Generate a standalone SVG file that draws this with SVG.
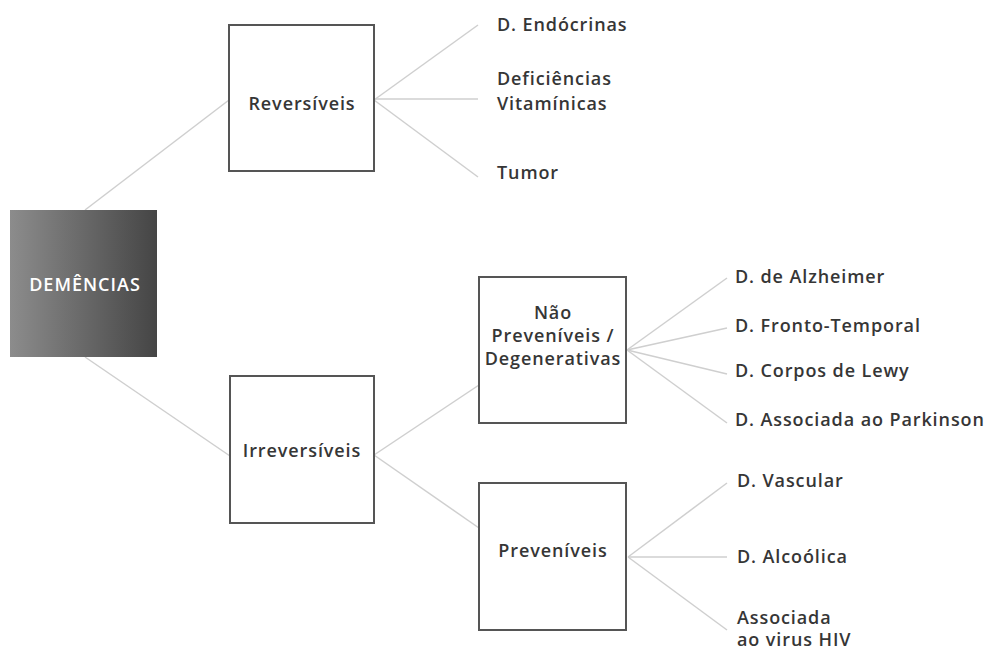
<svg xmlns="http://www.w3.org/2000/svg" width="990" height="650" viewBox="0 0 990 650">
<style>
.box{fill:#fff;stroke:#555;stroke-width:2}
.lbl{font-family:"Open Sans","Noto Sans","Liberation Sans",sans-serif;font-weight:600;font-size:18px;letter-spacing:0.9px;fill:#363636}
.c{text-anchor:middle}
.conn line{stroke:#cfcfcf;stroke-width:1.5}
</style>
<defs>
<linearGradient id="g" x1="0" y1="0" x2="1" y2="0">
<stop offset="0" stop-color="#8c8c8c"/>
<stop offset="1" stop-color="#454545"/>
</linearGradient>
</defs>
<rect width="990" height="650" fill="#fff"/>
<g id="connectors" class="conn">
<line x1="85" y1="210" x2="229" y2="100"/>
<line x1="85" y1="357" x2="230" y2="456"/>
<line x1="374" y1="100" x2="478" y2="25"/>
<line x1="374" y1="99" x2="478" y2="99"/>
<line x1="374" y1="100" x2="478" y2="177"/>
<line x1="374" y1="455" x2="479" y2="385"/>
<line x1="374" y1="455" x2="479" y2="528"/>
<line x1="627" y1="350" x2="727" y2="278"/>
<line x1="627" y1="350" x2="727" y2="328"/>
<line x1="627" y1="350" x2="727" y2="374"/>
<line x1="627" y1="350" x2="727" y2="423"/>
<line x1="628" y1="557" x2="727" y2="483"/>
<line x1="628" y1="557" x2="727" y2="557"/>
<line x1="628" y1="557" x2="727" y2="630"/>
</g>
<g id="dementias">
<rect x="10" y="210" width="147" height="147" fill="url(#g)"/>
<text class="lbl c" x="85" y="291" style="fill:#fff;letter-spacing:1px">DEMÊNCIAS</text>
</g>
<g id="reversiveis">
<rect class="box" x="229" y="25" width="145" height="146"/>
<text class="lbl c" x="302" y="110">Reversíveis</text>
</g>
<g id="irreversiveis">
<rect class="box" x="230" y="376" width="144" height="147"/>
<text class="lbl c" x="302" y="457">Irreversíveis</text>
</g>
<g id="nao-preveniveis">
<rect class="box" x="479" y="277" width="147" height="146"/>
<text class="lbl c" x="553" y="319">Não</text>
<text class="lbl c" x="553" y="342">Preveníveis /</text>
<text class="lbl c" x="553" y="365">Degenerativas</text>
</g>
<g id="preveniveis">
<rect class="box" x="479" y="483" width="147" height="147"/>
<text class="lbl c" x="553" y="557">Preveníveis</text>
</g>
<g id="endocrinas"><text class="lbl" x="497" y="31">D. Endócrinas</text></g>
<g id="vitaminicas"><text class="lbl" x="497" y="85">Deficiências</text><text class="lbl" x="497" y="110">Vitamínicas</text></g>
<g id="tumor"><text class="lbl" x="497" y="179">Tumor</text></g>
<g id="alzheimer"><text class="lbl" x="735" y="283">D. de Alzheimer</text></g>
<g id="fronto"><text class="lbl" x="735" y="332">D. Fronto-Temporal</text></g>
<g id="lewy"><text class="lbl" x="735" y="377">D. Corpos de Lewy</text></g>
<g id="parkinson"><text class="lbl" x="735" y="426">D. Associada ao Parkinson</text></g>
<g id="vascular"><text class="lbl" x="737" y="487">D. Vascular</text></g>
<g id="alcoolica"><text class="lbl" x="737" y="563">D. Alcoólica</text></g>
<g id="hiv"><text class="lbl" x="737" y="624">Associada</text><text class="lbl" x="737" y="646">ao virus HIV</text></g>
</svg>
